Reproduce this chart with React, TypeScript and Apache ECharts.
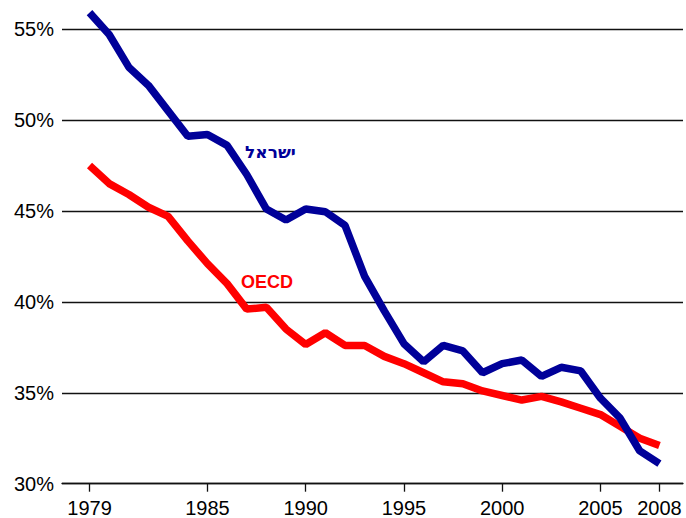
import React, { useEffect, useRef } from "react";
import * as echarts from "echarts";

const years: number[] = [
  1979, 1980, 1981, 1982, 1983, 1984, 1985, 1986, 1987, 1988, 1989, 1990, 1991, 1992, 1993,
  1994, 1995, 1996, 1997, 1998, 1999, 2000, 2001, 2002, 2003, 2004, 2005, 2006, 2007, 2008,
];
const israel: number[] = [
  55.9, 54.7, 52.9, 51.9, 50.5, 49.1, 49.2, 48.6, 47.0, 45.1, 44.5, 45.1, 44.95, 44.2, 41.4,
  39.5, 37.7, 36.7, 37.6, 37.3, 36.1, 36.6, 36.8, 35.9, 36.4, 36.2, 34.7, 33.6, 31.8, 31.1,
];
const oecd: number[] = [
  47.5, 46.5, 45.9, 45.2, 44.7, 43.35, 42.1, 41.0, 39.6, 39.7, 38.5, 37.65, 38.3, 37.6, 37.6,
  37.0, 36.6, 36.1, 35.6, 35.5, 35.1, 34.85, 34.6, 34.8, 34.5, 34.15, 33.8, 33.15, 32.5, 32.1,
];
const xTickLabels: number[] = [1979, 1985, 1990, 1995, 2000, 2005, 2008];
const israelLabel = "ישראל";
const oecdLabel = "OECD";

const FONT = "'Liberation Sans', Arial, sans-serif";
const HEB_FONT = "'DejaVu Sans', 'Liberation Sans', sans-serif";

export default function App() {
  const ref = useRef<HTMLDivElement>(null);
  useEffect(() => {
    if (!ref.current) return;
    const chart = echarts.init(ref.current, undefined, { renderer: "svg" });
    chart.setOption({
      animation: false,
      backgroundColor: "#ffffff",
      grid: { left: 62, right: 3, top: 29, bottom: 34.3, containLabel: false },
      xAxis: {
        type: "value",
        min: 1977.6,
        max: 2009.2,
        axisLine: { show: true, lineStyle: { color: "#111", width: 1.3 } },
        axisTick: {
          show: true,
          length: 8,
          customValues: xTickLabels,
          lineStyle: { color: "#111", width: 1.3 },
        },
        axisLabel: {
          customValues: xTickLabels,
          color: "#000",
          fontSize: 20,
          fontFamily: FONT,
          margin: 14,
          formatter: (v: number) => String(v),
        },
        splitLine: { show: false },
      },
      yAxis: {
        type: "value",
        min: 30,
        max: 55,
        interval: 5,
        axisLine: { show: false },
        axisTick: { show: false },
        axisLabel: {
          color: "#000",
          fontSize: 20,
          fontFamily: FONT,
          margin: 8,
          formatter: "{value}%",
        },
        splitLine: { show: true, lineStyle: { color: "#111", width: 1.3 } },
      },
      series: [
        {
          name: "OECD",
          type: "line",
          data: years.map((y, i) => [y, oecd[i]]),
          showSymbol: false,
          clip: false,
          lineStyle: { color: "#ff0000", width: 7.5 },
          z: 3,
        },
        {
          name: "Israel",
          type: "line",
          data: years.map((y, i) => [y, israel[i]]),
          showSymbol: false,
          clip: false,
          lineStyle: { color: "#000099", width: 7.5 },
          z: 4,
        },
      ],
      graphic: [
        {
          type: "text",
          left: 245,
          top: 143,
          style: {
            text: israelLabel,
            fill: "#000099",
            font: `bold 17px ${HEB_FONT}`,
          },
        },
        {
          type: "text",
          left: 241,
          top: 273,
          style: {
            text: oecdLabel,
            fill: "#ff0000",
            font: `bold 18px ${FONT}`,
          },
        },
      ],
    });
    return () => chart.dispose();
  }, []);
  return (
    <div
      ref={ref}
      style={{ position: "fixed", left: 0, top: 0, width: 686, height: 518 }}
    />
  );
}
